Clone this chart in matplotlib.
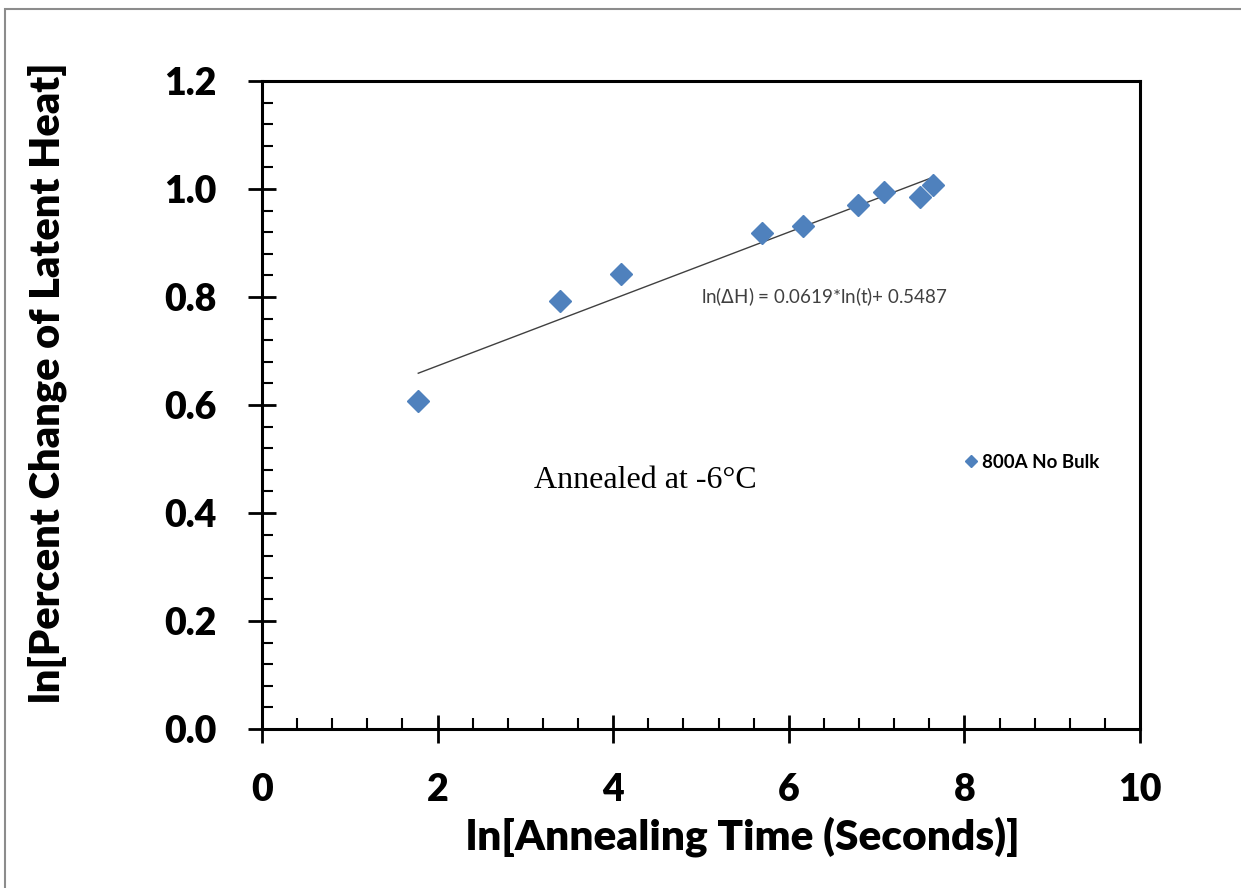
import numpy as np
import matplotlib
matplotlib.use('Agg')
import matplotlib.pyplot as plt
from matplotlib.ticker import MultipleLocator
from matplotlib.patches import Rectangle

# ln(annealing time) vs ln(percent change of latent heat)
ln_t = [1.78, 3.39, 4.09, 5.69, 6.16, 6.79, 7.08, 7.49, 7.64]
ln_dH = [0.608, 0.792, 0.842, 0.918, 0.932, 0.971, 0.995, 0.986, 1.007]

# trendline printed on the chart
pente = 0.0619
ordonnee = 0.5487
serie = '800A No Bulk'

bleu = '#4F81BD'
police = 'Lato'

fig = plt.figure(figsize=(12.41, 8.88), dpi=100)
ax = fig.add_axes([0.2111, 0.179, 0.7075, 0.7298])

# cadre gris autour de la figure
fig.patches.append(Rectangle((0.004, -0.01), 1.1, 1.0, transform=fig.transFigure,
                             fill=False, edgecolor='#8c8c8c', lw=1.5))

ax.plot(ln_t, ln_dH, 'D', color=bleu, markersize=11, label=serie, zorder=3)

xt = np.array([min(ln_t), max(ln_t)])
ax.plot(xt, pente*xt + ordonnee, '-', color='#404040', lw=1, zorder=2)

ax.text(5.0, 0.80, r'ln($\Delta$H) = 0.0619*ln(t)+ 0.5487', fontsize=13.5,
        family='Lato', color='#404040', va='center', ha='left')
ax.text(3.1, 0.461, 'Annealed at -6\u00b0C', fontsize=23, family='Liberation Serif',
        va='center', ha='left')

leg = ax.legend(loc='center left', bbox_to_anchor=(0.782, 0.412), frameon=False,
                markerscale=0.6, handlelength=0.6, handletextpad=0.3,
                prop={'family': police, 'weight': 'bold', 'size': 13.5})

ax.set_xlim(0, 10)
ax.set_ylim(0, 1.2)
ax.xaxis.set_major_locator(MultipleLocator(2))
ax.xaxis.set_minor_locator(MultipleLocator(0.4))
ax.yaxis.set_major_locator(MultipleLocator(0.2))
ax.yaxis.set_minor_locator(MultipleLocator(0.04))
ax.yaxis.set_major_formatter(plt.FormatStrFormatter('%.1f'))

for s in ax.spines.values():
    s.set_linewidth(2.2)
ax.tick_params(which='major', direction='inout', length=20, width=2)
ax.tick_params(which='minor', direction='in', length=8, width=1.5)
ax.tick_params(axis='x', which='major', pad=22)
ax.tick_params(axis='y', which='major', pad=23)

for lab in ax.get_xticklabels() + ax.get_yticklabels():
    lab.set_family(police)
    lab.set_weight('heavy')
    lab.set_fontsize(27)

ax.set_xlabel('ln[Annealing Time (Seconds)]', family=police, weight='heavy', fontsize=30.5)
ax.set_ylabel('ln[Percent Change of Latent Heat]', family=police, weight='heavy', fontsize=30)
ax.xaxis.set_label_coords(0.548, -0.135)
ax.yaxis.set_label_coords(-0.222, 0.535)

fig.savefig('out.png', dpi=100)
